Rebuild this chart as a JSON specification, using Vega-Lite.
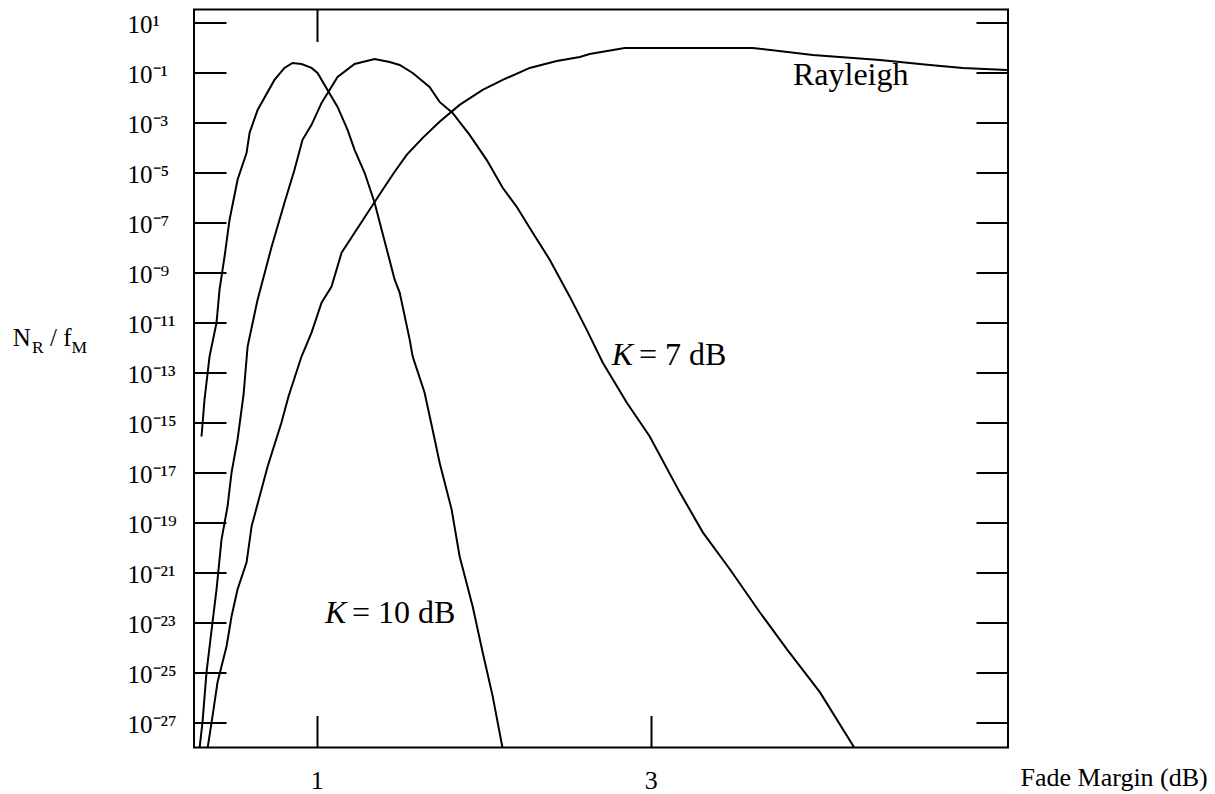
{
  "$schema": "https://vega.github.io/schema/vega-lite/v6.json",
  "width": 814,
  "height": 738,
  "autosize": {"type": "none"},
  "padding": {"left": 194, "top": 9.5, "right": 207, "bottom": 46.5},
  "background": "white",
  "config": {
    "view": {"stroke": "black", "strokeWidth": 2},
    "font": "Liberation Serif",
    "axis": {
      "domain": false,
      "grid": false,
      "tickColor": "black",
      "tickWidth": 2,
      "labelColor": "black",
      "titleColor": "black",
      "labelFont": "Liberation Serif",
      "titleFont": "Liberation Serif",
      "titleFontWeight": "normal",
      "labelOverlap": false,
      "labelFlush": false,
      "labelBound": false
    }
  },
  "datasets": {
    "curves": [
      {"curve": "K10", "x": 0.309, "y": 2.71e-16},
      {"curve": "K10", "x": 0.327, "y": 8.13e-15},
      {"curve": "K10", "x": 0.357, "y": 4.24e-13},
      {"curve": "K10", "x": 0.399, "y": 9.64e-12},
      {"curve": "K10", "x": 0.417, "y": 2.0e-10},
      {"curve": "K10", "x": 0.447, "y": 4.16e-9},
      {"curve": "K10", "x": 0.477, "y": 1.25e-7},
      {"curve": "K10", "x": 0.525, "y": 4.93e-6},
      {"curve": "K10", "x": 0.579, "y": 5.89e-5},
      {"curve": "K10", "x": 0.597, "y": 3.71e-4},
      {"curve": "K10", "x": 0.645, "y": 3.07e-3},
      {"curve": "K10", "x": 0.746, "y": 0.0484},
      {"curve": "K10", "x": 0.806, "y": 0.146},
      {"curve": "K10", "x": 0.854, "y": 0.231},
      {"curve": "K10", "x": 0.908, "y": 0.21},
      {"curve": "K10", "x": 0.968, "y": 0.146},
      {"curve": "K10", "x": 1.004, "y": 0.092},
      {"curve": "K10", "x": 1.064, "y": 0.0193},
      {"curve": "K10", "x": 1.124, "y": 4.05e-3},
      {"curve": "K10", "x": 1.184, "y": 4.89e-4},
      {"curve": "K10", "x": 1.226, "y": 7.76e-5},
      {"curve": "K10", "x": 1.286, "y": 9.38e-6},
      {"curve": "K10", "x": 1.346, "y": 5.94e-7},
      {"curve": "K10", "x": 1.388, "y": 4.98e-8},
      {"curve": "K10", "x": 1.424, "y": 6.0e-9},
      {"curve": "K10", "x": 1.466, "y": 5.02e-10},
      {"curve": "K10", "x": 1.496, "y": 1.52e-10},
      {"curve": "K10", "x": 1.556, "y": 2.02e-12},
      {"curve": "K10", "x": 1.574, "y": 4.24e-13},
      {"curve": "K10", "x": 1.645, "y": 1.55e-14},
      {"curve": "K10", "x": 1.693, "y": 5.16e-16},
      {"curve": "K10", "x": 1.735, "y": 2.48e-17},
      {"curve": "K10", "x": 1.807, "y": 3.3e-19},
      {"curve": "K10", "x": 1.855, "y": 4.4e-21},
      {"curve": "K10", "x": 1.933, "y": 4.44e-23},
      {"curve": "K10", "x": 1.993, "y": 6.46e-25},
      {"curve": "K10", "x": 2.053, "y": 1.13e-26},
      {"curve": "K10", "x": 2.113, "y": 9e-29},
      {"curve": "K7", "x": 0.297, "y": 9e-29},
      {"curve": "K7", "x": 0.315, "y": 1.04e-27},
      {"curve": "K7", "x": 0.339, "y": 1.03e-25},
      {"curve": "K7", "x": 0.375, "y": 1.02e-23},
      {"curve": "K7", "x": 0.399, "y": 2.11e-22},
      {"curve": "K7", "x": 0.429, "y": 2.09e-20},
      {"curve": "K7", "x": 0.465, "y": 4.36e-19},
      {"curve": "K7", "x": 0.489, "y": 9.91e-18},
      {"curve": "K7", "x": 0.525, "y": 2.06e-16},
      {"curve": "K7", "x": 0.561, "y": 1.29e-14},
      {"curve": "K7", "x": 0.585, "y": 1.06e-12},
      {"curve": "K7", "x": 0.645, "y": 7.98e-11},
      {"curve": "K7", "x": 0.729, "y": 1.04e-8},
      {"curve": "K7", "x": 0.806, "y": 5.94e-7},
      {"curve": "K7", "x": 0.866, "y": 1.24e-5},
      {"curve": "K7", "x": 0.914, "y": 1.95e-4},
      {"curve": "K7", "x": 0.968, "y": 7.73e-4},
      {"curve": "K7", "x": 1.028, "y": 5.83e-3},
      {"curve": "K7", "x": 1.124, "y": 0.0637},
      {"curve": "K7", "x": 1.226, "y": 0.21},
      {"curve": "K7", "x": 1.346, "y": 0.333},
      {"curve": "K7", "x": 1.436, "y": 0.253},
      {"curve": "K7", "x": 1.496, "y": 0.192},
      {"curve": "K7", "x": 1.574, "y": 0.092},
      {"curve": "K7", "x": 1.675, "y": 0.0254},
      {"curve": "K7", "x": 1.735, "y": 6.4e-3},
      {"curve": "K7", "x": 1.813, "y": 2.33e-3},
      {"curve": "K7", "x": 1.915, "y": 3.08e-4},
      {"curve": "K7", "x": 2.017, "y": 3.1e-5},
      {"curve": "K7", "x": 2.113, "y": 2.36e-6},
      {"curve": "K7", "x": 2.197, "y": 4.12e-7},
      {"curve": "K7", "x": 2.293, "y": 3.78e-8},
      {"curve": "K7", "x": 2.395, "y": 3.16e-9},
      {"curve": "K7", "x": 2.515, "y": 1.05e-10},
      {"curve": "K7", "x": 2.616, "y": 5.07e-12},
      {"curve": "K7", "x": 2.712, "y": 2.44e-13},
      {"curve": "K7", "x": 2.856, "y": 6.17e-15},
      {"curve": "K7", "x": 2.994, "y": 2.71e-16},
      {"curve": "K7", "x": 3.174, "y": 1.58e-18},
      {"curve": "K7", "x": 3.312, "y": 3.99e-20},
      {"curve": "K7", "x": 3.474, "y": 1.33e-21},
      {"curve": "K7", "x": 3.653, "y": 2.55e-23},
      {"curve": "K7", "x": 3.815, "y": 8.51e-25},
      {"curve": "K7", "x": 4.013, "y": 1.63e-26},
      {"curve": "K7", "x": 4.223, "y": 9e-29},
      {"curve": "Rayleigh", "x": 0.345, "y": 9e-29},
      {"curve": "Rayleigh", "x": 0.375, "y": 1.8e-27},
      {"curve": "Rayleigh", "x": 0.405, "y": 4.1e-26},
      {"curve": "Rayleigh", "x": 0.459, "y": 1.12e-24},
      {"curve": "Rayleigh", "x": 0.489, "y": 1.77e-23},
      {"curve": "Rayleigh", "x": 0.525, "y": 2.11e-22},
      {"curve": "Rayleigh", "x": 0.579, "y": 2.53e-21},
      {"curve": "Rayleigh", "x": 0.609, "y": 6.92e-20},
      {"curve": "Rayleigh", "x": 0.705, "y": 1.72e-17},
      {"curve": "Rayleigh", "x": 0.788, "y": 9.82e-16},
      {"curve": "Rayleigh", "x": 0.83, "y": 1.07e-14},
      {"curve": "Rayleigh", "x": 0.908, "y": 4.24e-13},
      {"curve": "Rayleigh", "x": 0.968, "y": 3.85e-12},
      {"curve": "Rayleigh", "x": 1.028, "y": 6.05e-11},
      {"curve": "Rayleigh", "x": 1.088, "y": 2.64e-10},
      {"curve": "Rayleigh", "x": 1.148, "y": 6.0e-9},
      {"curve": "Rayleigh", "x": 1.226, "y": 3.78e-8},
      {"curve": "Rayleigh", "x": 1.304, "y": 2.37e-7},
      {"curve": "Rayleigh", "x": 1.406, "y": 2.59e-6},
      {"curve": "Rayleigh", "x": 1.466, "y": 1.03e-5},
      {"curve": "Rayleigh", "x": 1.538, "y": 4.91e-5},
      {"curve": "Rayleigh", "x": 1.634, "y": 2.34e-4},
      {"curve": "Rayleigh", "x": 1.735, "y": 1.02e-3},
      {"curve": "Rayleigh", "x": 1.855, "y": 4.86e-3},
      {"curve": "Rayleigh", "x": 1.993, "y": 0.0193},
      {"curve": "Rayleigh", "x": 2.113, "y": 0.0484},
      {"curve": "Rayleigh", "x": 2.275, "y": 0.146},
      {"curve": "Rayleigh", "x": 2.437, "y": 0.277},
      {"curve": "Rayleigh", "x": 2.575, "y": 0.401},
      {"curve": "Rayleigh", "x": 2.634, "y": 0.528},
      {"curve": "Rayleigh", "x": 2.844, "y": 0.916},
      {"curve": "Rayleigh", "x": 3.234, "y": 0.916},
      {"curve": "Rayleigh", "x": 3.611, "y": 0.916},
      {"curve": "Rayleigh", "x": 3.971, "y": 0.482},
      {"curve": "Rayleigh", "x": 4.373, "y": 0.304},
      {"curve": "Rayleigh", "x": 4.672, "y": 0.192},
      {"curve": "Rayleigh", "x": 4.87, "y": 0.146},
      {"curve": "Rayleigh", "x": 5.134, "y": 0.121}
    ],
    "ytitle_main": [
      {"t": "N", "x": -0.822, "y": 1.12e-12},
      {"t": "/ f", "x": -0.599, "y": 1.12e-12}
    ],
    "ytitle_sub": [
      {"t": "R", "x": -0.706, "y": 5.74e-13},
      {"t": "M", "x": -0.47, "y": 5.74e-13}
    ],
    "ann_italic": [
      {"t": "K", "x": 2.766, "y": 1.95e-13},
      {"t": "K", "x": 1.049, "y": 9.29e-24}
    ],
    "ann_roman": [
      {"t": "= 7 dB", "x": 2.93, "y": 1.95e-13},
      {"t": "= 10 dB", "x": 1.21, "y": 9.29e-24},
      {"t": "Rayleigh", "x": 3.852, "y": 0.0303}
    ]
  },
  "layer": [
    {
      "layer": [
        {
          "data": {"name": "curves"},
          "mark": {"type": "line", "color": "black", "strokeWidth": 2, "clip": true},
          "encoding": {
            "x": {
              "field": "x", "type": "quantitative",
              "scale": {"domain": [0.264, 5.14], "nice": false, "zero": false},
              "axis": {
                "orient": "bottom",
                "values": [1, 3],
                "format": "d",
                "tickSize": -32,
                "labelFontSize": 26,
                "labelBaseline": "alphabetic",
                "labelPadding": 73,
                "title": "Fade Margin (dB)",
                "titleFontSize": 26,
                "titleX": 826,
                "titleY": 37.5,
                "titleAlign": "left",
                "titleBaseline": "alphabetic",
                "titleAngle": 0
              }
            },
            "y": {
              "field": "y", "type": "quantitative",
              "scale": {"type": "log", "domain": [1e-28, 31.6228], "nice": false},
              "axis": {
                "orient": "left",
                "values": [10, 0.1, 0.001, 1e-5, 1e-7, 1e-9, 1e-11, 1e-13, 1e-15, 1e-17, 1e-19, 1e-21, 1e-23, 1e-25, 1e-27],
                "tickSize": -32,
                "labelFontSize": 25,
                "labelAlign": "left",
                "labelBaseline": "alphabetic",
                "labelPadding": 99,
                "labelOffset": 10,
                "labelExpr": "'10' + replace(replace(replace(replace(replace(replace(replace('' + round(log(datum.value) / LN10), '-', '⁻'), regexp('1', 'g'), '¹'), regexp('2', 'g'), '²'), regexp('3', 'g'), '³'), regexp('5', 'g'), '⁵'), regexp('7', 'g'), '⁷'), regexp('9', 'g'), '⁹')",
                "title": null
              }
            },
            "detail": {"field": "curve"}
          }
        },
        {
          "data": {"name": "ytitle_main"},
          "mark": {"type": "text", "align": "left", "baseline": "alphabetic", "fontSize": 25, "font": "Liberation Serif", "color": "black"},
          "encoding": {
            "x": {"field": "x", "type": "quantitative"},
            "y": {"field": "y", "type": "quantitative"},
            "text": {"field": "t"}
          }
        },
        {
          "data": {"name": "ytitle_sub"},
          "mark": {"type": "text", "align": "left", "baseline": "alphabetic", "fontSize": 17.5, "font": "Liberation Serif", "color": "black"},
          "encoding": {
            "x": {"field": "x", "type": "quantitative"},
            "y": {"field": "y", "type": "quantitative"},
            "text": {"field": "t"}
          }
        },
        {
          "data": {"name": "ann_italic"},
          "mark": {"type": "text", "align": "left", "baseline": "alphabetic", "fontSize": 32, "fontStyle": "italic", "font": "Liberation Serif", "color": "black"},
          "encoding": {
            "x": {"field": "x", "type": "quantitative"},
            "y": {"field": "y", "type": "quantitative"},
            "text": {"field": "t"}
          }
        },
        {
          "data": {"name": "ann_roman"},
          "mark": {"type": "text", "align": "left", "baseline": "alphabetic", "fontSize": 32, "font": "Liberation Serif", "color": "black"},
          "encoding": {
            "x": {"field": "x", "type": "quantitative"},
            "y": {"field": "y", "type": "quantitative"},
            "text": {"field": "t"}
          }
        }
      ]
    },
    {
      "data": {"name": "curves"},
      "mark": {"type": "line", "opacity": 0, "strokeOpacity": 0, "clip": true},
      "encoding": {
        "x": {
          "field": "x", "type": "quantitative",
          "scale": {"domain": [0.264, 5.14], "nice": false, "zero": false},
          "axis": {"orient": "top", "values": [1], "tickSize": -32, "labels": false, "title": null}
        },
        "y": {
          "field": "y", "type": "quantitative",
          "scale": {"type": "log", "domain": [1e-28, 31.6228], "nice": false},
          "axis": {
            "orient": "right",
            "values": [10, 0.1, 0.001, 1e-5, 1e-7, 1e-9, 1e-11, 1e-13, 1e-15, 1e-17, 1e-19, 1e-21, 1e-23, 1e-25, 1e-27],
            "tickSize": -32,
            "labels": false,
            "title": null
          }
        },
        "detail": {"field": "curve"}
      }
    }
  ],
  "resolve": {"scale": {"x": "independent", "y": "independent"}}
}
